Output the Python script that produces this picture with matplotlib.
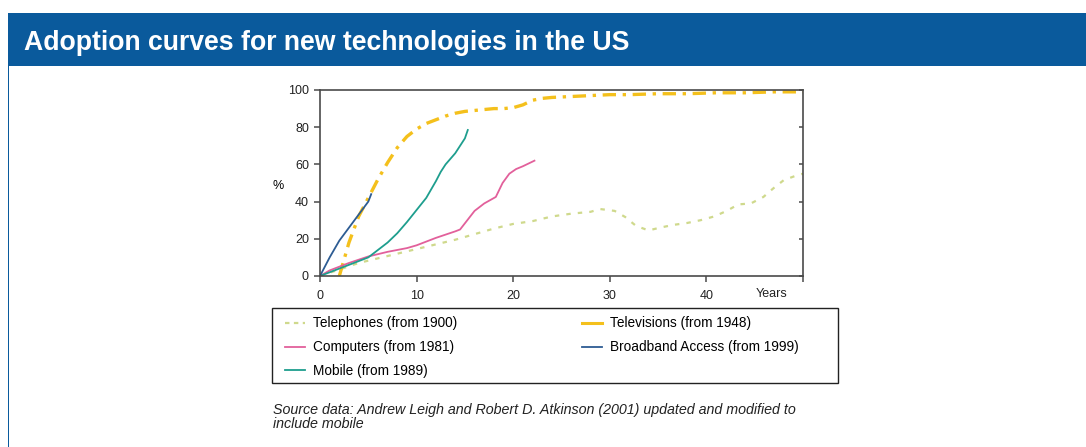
import matplotlib
matplotlib.use("Agg")
import matplotlib.pyplot as plt
from matplotlib.patches import Rectangle
from matplotlib.lines import Line2D

plt.rcParams['font.family'] = ['Liberation Sans', 'DejaVu Sans']

# Years since introduction vs. share of US households (%)
tel_years = [0, 2, 4, 6, 8, 10, 12, 14, 16, 18, 20, 22, 24, 26, 28, 29, 30.5, 31.6,
             32.7, 34, 35.2, 36.6, 38, 39.4, 40.8, 42.1, 43.3, 44.6, 45.9, 46.9, 48, 49.3, 50]
tel_pct = [0, 3.5, 7, 9.5, 12, 14.5, 17, 19.5, 22.5, 25.5, 28, 29.5, 32, 33.5, 34.5, 36,
           35, 31.7, 27, 24.5, 26, 27.5, 28.5, 30, 32, 35, 38.5, 39, 42.5, 47, 51.5, 54, 55]

tv_years = [2, 3, 4, 5, 6, 7, 8, 9, 10, 11, 12, 13, 14, 15, 16, 17, 18, 19, 20, 21, 22,
            23, 24, 26, 28, 30, 32, 35, 38, 41, 44, 47, 50]
tv_pct = [0, 18, 32, 42, 52, 61, 69, 75, 79, 82, 84, 86, 87.5, 88.5, 89, 89.5, 90, 90,
          90.5, 92, 94.5, 95.5, 96, 96.5, 97, 97.5, 97.5, 98, 98, 98.5, 98.5, 99, 99]

pc_years = [0, 1, 3, 5, 7, 9, 10, 12, 14, 14.5, 16, 17, 18.2, 18.9, 19.6, 20.3, 21, 22.2]
pc_pct = [0, 3, 7, 10.5, 13, 15, 16.5, 20.5, 24, 25, 35, 39, 42.5, 50, 55, 57.5, 59, 62]

bb_years = [0, 1, 2, 3, 4, 5, 5.3]
bb_pct = [0, 10, 19, 26, 33, 40, 44]

mob_years = [0, 2, 4, 5, 6, 7, 8, 9, 10, 11, 12, 12.5, 13, 14, 15, 15.3]
mob_pct = [0, 4, 8, 10, 14, 18, 23, 29, 35.5, 42, 51, 56, 60, 66, 74, 78.5]

x_ticks = [0, 10, 20, 30, 40, 50]
x_tick_labels = ['0', '10', '20', '30', '40', '']
y_ticks = [0, 20, 40, 60, 80, 100]

labels = ['Telephones (from 1900)', 'Televisions (from 1948)', 'Computers (from 1981)',
          'Broadband Access (from 1999)', 'Mobile (from 1989)']

title = 'Adoption curves for new technologies in the US'
source = ('Source data: Andrew Leigh and Robert D. Atkinson (2001) updated and modified to\n'
          'include mobile')

W, H = 1086, 447
fig = plt.figure(figsize=(W / 100, H / 100), dpi=100)
fig.patch.set_facecolor('white')

def fx(px):
    return px / W

def fy(py):
    return 1 - py / H

blue = '#0a5a9c'
# header band and left rule
fig.patches.append(Rectangle((fx(8), fy(66)), 1 - fx(8), fy(13) - fy(66),
                             transform=fig.transFigure, facecolor=blue, edgecolor='none'))
fig.patches.append(Rectangle((fx(7.5), 0), fx(1.5), fy(13),
                             transform=fig.transFigure, facecolor=blue, edgecolor='none'))
fig.text(fx(24), fy(42.5), title, color='white', fontsize=19.2, fontweight='bold',
         va='center', ha='left')

c_tel = '#cfd98c'
c_tv = '#f4c01c'
c_pc = '#e2609b'
c_bb = '#2d5c93'
c_mob = '#1e9e8e'

ax = fig.add_axes([fx(320), fy(276), fx(803) - fx(320), fy(90) - fy(276)])
l_tel, = ax.plot(tel_years, tel_pct, color=c_tel, lw=1.6, linestyle=(0, (2, 3.2)))
l_tv, = ax.plot(tv_years, tv_pct, color=c_tv, lw=2.4, linestyle=(0, (4, 2, 1, 2)))
l_pc, = ax.plot(pc_years, pc_pct, color=c_pc, lw=1.3)
l_mob, = ax.plot(mob_years, mob_pct, color=c_mob, lw=1.3)
l_bb, = ax.plot(bb_years, bb_pct, color=c_bb, lw=1.3)

ax.set_xlim(0, 50)
ax.set_ylim(0, 100)
ax.set_xticks(x_ticks)
ax.set_xticklabels(x_tick_labels)
ax.set_yticks(y_ticks)
for s in ax.spines.values():
    s.set_color('#4a4a4a')
    s.set_linewidth(1.2)
ax.tick_params(axis='both', direction='out', length=4, width=1.1, color='#4a4a4a',
               labelsize=9, labelcolor='#222222')
ax.tick_params(axis='x', pad=6)
ax.tick_params(axis='y', pad=4)
# short inward marks on the right spine
ax.tick_params(axis='y', which='major', right=True)
for t in ax.yaxis.get_major_ticks():
    t.tick2line.set_marker(0)
    t.tick2line.set_markersize(3)
ax.set_ylabel('%', rotation=0, fontsize=9, labelpad=7, y=0.45)
ax.text(46.7, -0.065, 'Years', transform=ax.get_xaxis_transform(), fontsize=9,
        ha='center', va='top', color='#222222')

# legend with separate rectangular frame
fig.patches.append(Rectangle((fx(272), fy(383)), fx(838) - fx(272), fy(308) - fy(383),
                             transform=fig.transFigure, facecolor='none',
                             edgecolor='#222222', lw=1.0))
h_tel = Line2D([], [], color=c_tel, lw=1.6, linestyle=(0, (2, 2)))
h_tv = Line2D([], [], color=c_tv, lw=2.2)
h_pc = Line2D([], [], color=c_pc, lw=1.3)
h_bb = Line2D([], [], color=c_bb, lw=1.3)
h_mob = Line2D([], [], color=c_mob, lw=1.3)
fig.legend([h_tel, h_pc, h_mob, h_tv, h_bb],
           [labels[0], labels[2], labels[4], labels[1], labels[3]],
           ncol=2, frameon=False, loc='upper left',
           bbox_to_anchor=(fx(285), fy(316.5)), fontsize=9.8,
           handlelength=1.45, handletextpad=0.6, columnspacing=9.2,
           labelspacing=0.72, borderpad=0.0, borderaxespad=0.0)

fig.text(fx(273), fy(417), source, fontsize=10.3, style='italic', color='#222222',
         ha='left', va='center', linespacing=1.05)

fig.savefig('out.png', dpi=100, facecolor='white')
